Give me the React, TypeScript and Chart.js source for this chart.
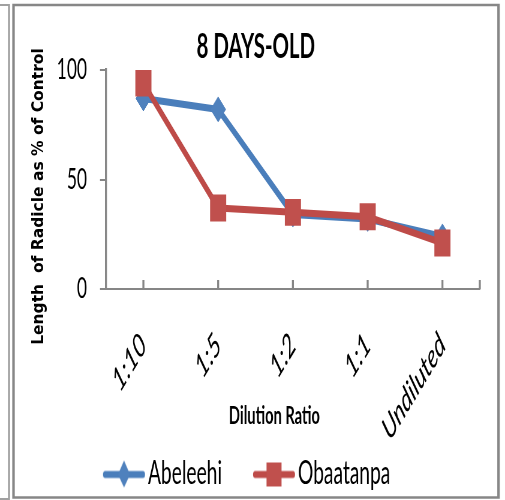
import React, { useEffect, useRef } from 'react';
import { Chart, registerables } from 'chart.js';

Chart.register(...registerables);

// ---------- data ----------
const TITLE = '8 DAYS-OLD';
const X_TITLE = 'Dilution Ratio';
const Y_TITLE = 'Length  of Radicle as % of Control';
const categories = ['1:10', '1:5', '1:2', '1:1', 'Undiluted'];
const seriesNames = ['Abeleehi', 'Obaatanpa'];
const abeleehi = [87, 82, 34, 32, 24];
const obaatanpa = [94, 37, 35, 33, 21];
const yTickValues = [0, 50, 100];

// ---------- style / layout ----------
const BLUE_LINE = '#4A7EBB';
const BLUE = '#4F81BD';
const RED_LINE = '#BE4B48';
const RED = '#C0504D';
const AXIS = '#868686';

const CW = 842; // drawn wide, then squeezed horizontally like the reference
const CH = 500;
const K = 505 / CW;
const U = (x: number) => x / K;

const PAD_R = 42;
const PLOT_TOP = 70;
const PLOT_BOTTOM = 289;
const PLOT_LEFT = U(106);
const LEGEND_FS = 32;
const LEGEND_PAD = 5;
const LEGEND_TEXT_Y = 473.5;
const XTICK_FS = 33;

function makeIcon(lineColor: string, fill: string, kind: 'diamond' | 'square', iw: number, off: number, halfLine: number) {
  const c = document.createElement('canvas');
  c.width = Math.ceil(iw);
  c.height = 32;
  const g = c.getContext('2d')!;
  const cx = c.width / 2 + off;
  const cy = 17;
  g.strokeStyle = lineColor;
  g.lineWidth = 7;
  g.lineCap = 'round';
  g.beginPath();
  g.moveTo(cx - halfLine + 3.5, cy);
  g.lineTo(cx + halfLine - 3.5, cy);
  g.stroke();
  g.fillStyle = fill;
  if (kind === 'diamond') {
    g.beginPath();
    g.moveTo(cx, cy - 14);
    g.lineTo(cx + 10, cy);
    g.lineTo(cx, cy + 13);
    g.lineTo(cx - 10, cy);
    g.closePath();
    g.fill();
  } else {
    g.fillRect(cx - 12.5, cy - 12, 25, 24);
  }
  return c;
}

const framePlugin = {
  id: 'frameAndTitles',
  beforeDraw(chart: any) {
    const ctx = chart.ctx as CanvasRenderingContext2D;
    ctx.save();
    ctx.fillStyle = '#ffffff';
    ctx.fillRect(0, 0, chart.width, chart.height);
    ctx.scale(1 / K, 1);
    ctx.strokeStyle = '#a0a0a0';
    ctx.lineWidth = 2;
    ctx.beginPath();
    ctx.moveTo(0, 5);
    ctx.lineTo(9, 5);
    ctx.lineTo(9, 499);
    ctx.lineTo(0, 499);
    ctx.stroke();
    ctx.strokeStyle = '#878787';
    ctx.lineWidth = 2.5;
    ctx.strokeRect(13.5, 5, 485, 492.5);
    ctx.restore();
  },
  afterDraw(chart: any) {
    const ctx = chart.ctx as CanvasRenderingContext2D;
    const { chartArea, scales } = chart;
    const xs = scales.x;
    ctx.save();
    // small inward tick marks on the category axis
    ctx.strokeStyle = AXIS;
    ctx.lineWidth = 3.3;
    ctx.beginPath();
    const pos = categories.map((_, i) => xs.getPixelForValue(i)).concat([chartArea.right]);
    pos.forEach((px: number) => {
      ctx.moveTo(px, chartArea.bottom);
      ctx.lineTo(px, chartArea.bottom - 9);
    });
    ctx.stroke();
    ctx.fillStyle = '#000';
    ctx.textAlign = 'center';
    ctx.textBaseline = 'alphabetic';
    // chart title
    ctx.font = 'bold 34px Lato';
    ctx.fillText(TITLE, U(255.8), 58);
    // x axis title
    ctx.font = 'bold 24.5px Lato';
    ctx.fillText(X_TITLE, U(274.4), 424);
    // y axis title (drawn in reference space)
    ctx.scale(1 / K, 1);
    ctx.translate(43.3, 196.5);
    ctx.rotate(-Math.PI / 2);
    ctx.font = 'bold 15.5px "DejaVu Sans"';
    ctx.fillText(Y_TITLE, 0, 0);
    ctx.restore();
  },
};

export default function App() {
  const ref = useRef<HTMLCanvasElement | null>(null);

  useEffect(() => {
    const canvas = ref.current;
    if (!canvas) return;

    // legend geometry, derived from the measured label widths
    const mctx = document.createElement('canvas').getContext('2d')!;
    mctx.font = `${LEGEND_FS}px Lato`;
    const tw1 = mctx.measureText(seriesNames[0]).width;
    const tw2 = mctx.measureText(seriesNames[1]).width;
    const text1 = U(148);
    const text2 = U(298);
    const p = LEGEND_PAD;
    const bw = Math.max(text2 - text1 - tw1 - p - LEGEND_FS / 2, 1);
    const x0 = text1 - bw - LEGEND_FS / 2;
    const right = CW - PAD_R;
    const padL = x0 + text2 + tw2 - right; // centres the legend row where the reference has it
    const lineCenterFromText = text1 - (U(103) + U(145)) / 2;
    const halfLine = (U(145) - U(103)) / 2;
    const off = LEGEND_FS / 2 + bw / 2 - lineCenterFromText;
    const iw = 2 * (Math.abs(off) + halfLine + 6);
    const icons = [
      makeIcon(BLUE_LINE, BLUE, 'diamond', iw, off, halfLine),
      makeIcon(RED_LINE, RED, 'square', iw, off, halfLine),
    ];
    const legendH = LEGEND_FS + p + 10;
    const legendTop = LEGEND_TEXT_Y - p - LEGEND_FS / 2;
    const bottomPad = Math.max(CH - legendTop - legendH, 0);
    const xScaleH = legendTop - PLOT_BOTTOM;
    const xtickLH = XTICK_FS * 1.2;
    const xtickPad = 339.4 - PLOT_BOTTOM - 0.3536 * xtickLH;

    const chart = new Chart(canvas, {
      type: 'line',
      data: {
        labels: categories,
        datasets: [
          {
            label: seriesNames[0],
            data: abeleehi,
            borderColor: BLUE_LINE,
            backgroundColor: BLUE,
            borderWidth: 7,
            pointStyle: 'rectRot',
            pointRadius: 12.5,
            pointHoverRadius: 12.5,
            pointBorderWidth: 1,
            pointBackgroundColor: BLUE,
            pointBorderColor: BLUE,
            tension: 0,
            order: 1,
          },
          {
            label: seriesNames[1],
            data: obaatanpa,
            borderColor: RED_LINE,
            backgroundColor: RED,
            borderWidth: 7,
            pointStyle: 'rect',
            pointRadius: 19,
            pointHoverRadius: 19,
            pointBorderWidth: 0,
            pointBackgroundColor: RED,
            pointBorderColor: RED,
            tension: 0,
            order: 0,
          },
        ],
      },
      options: {
        responsive: false,
        animation: false,
        devicePixelRatio: 1,
        layout: { padding: { left: padL, right: PAD_R, top: PLOT_TOP, bottom: bottomPad } },
        plugins: {
          title: { display: false },
          legend: {
            position: 'bottom',
            labels: {
              usePointStyle: true,
              pointStyleWidth: bw,
              padding: p,
              color: '#000',
              font: { family: 'Lato', size: LEGEND_FS },
              generateLabels: (ch: any) => {
                const items = (Chart as any).defaults.plugins.legend.labels.generateLabels(ch);
                return items
                  .slice()
                  .sort((a: any, b: any) => a.datasetIndex - b.datasetIndex)
                  .map((it: any) => ({ ...it, pointStyle: icons[it.datasetIndex], fontColor: '#000' }));
              },
            },
          },
          tooltip: { enabled: false },
        },
        scales: {
          x: {
            offset: true,
            grid: { display: false, drawTicks: false },
            border: { display: true, color: AXIS, width: 2 },
            ticks: {
              autoSkip: false,
              minRotation: 45,
              maxRotation: 45,
              padding: xtickPad,
              color: '#000',
              font: { family: 'Lato', style: 'italic', size: XTICK_FS },
            },
            afterFit: (s: any) => {
              s.height = xScaleH;
            },
          },
          y: {
            min: 0,
            max: 100,
            grid: { drawOnChartArea: false, drawTicks: true, tickLength: 10, color: AXIS, lineWidth: 2 },
            border: { display: true, color: AXIS, width: 3.3 },
            ticks: {
              padding: 21.7,
              color: '#000',
              font: { family: 'Lato', size: 29 },
            },
            afterBuildTicks: (s: any) => {
              s.ticks = yTickValues.map((v) => ({ value: v }));
            },
            afterFit: (s: any) => {
              s.width = PLOT_LEFT - padL;
            },
          },
        },
      } as any,
      plugins: [framePlugin as any],
    });

    return () => chart.destroy();
  }, []);

  return (
    <div style={{ position: 'fixed', left: 0, top: 0, width: 505, height: 500, overflow: 'hidden', background: '#fff' }}>
      <div style={{ width: CW, height: CH, transform: `scaleX(${K})`, transformOrigin: '0 0' }}>
        <canvas ref={ref} width={CW} height={CH} style={{ display: 'block' }} />
      </div>
    </div>
  );
}
